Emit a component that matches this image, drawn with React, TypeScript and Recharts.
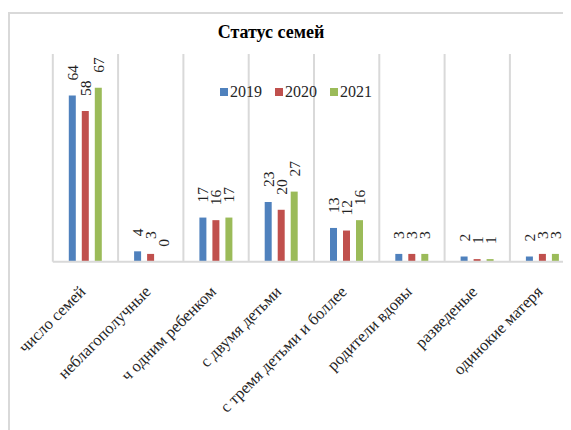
import { BarChart, Bar, XAxis, YAxis, CartesianGrid, LabelList } from 'recharts';

const categories = [
  'число семей',
  'неблагополучные',
  'ч одним ребенком',
  'с двумя детьми',
  'с тремя детьми и боллее',
  'родители вдовы',
  'разведеные',
  'одинокие матеря',
];
const values2019 = [64, 4, 17, 23, 13, 3, 2, 2];
const values2020 = [58, 3, 16, 20, 12, 3, 1, 3];
const values2021 = [67, 0, 17, 27, 16, 3, 1, 3];

const seriesList = [
  { key: '2019', color: '#4f81bd' },
  { key: '2020', color: '#c0504d' },
  { key: '2021', color: '#9bbb59' },
];

const FONT = '"Liberation Serif", "Times New Roman", serif';

const data = categories.map((name, i) => ({
  name,
  '2019': values2019[i],
  '2020': values2020[i],
  '2021': values2021[i],
}));

const RotatedLabel = (props: any) => {
  const { x, y, width, value } = props;
  const cx = x + width / 2;
  const ty = y - 15;
  return (
    <text
      x={cx}
      y={ty}
      transform={`rotate(-90 ${cx} ${ty})`}
      textAnchor="start"
      dominantBaseline="central"
      fontSize={15.5}
      fontFamily={FONT}
      fill="#222"
    >
      {String(value)}
    </text>
  );
};

const CategoryTick = (props: any) => {
  const { x, y, payload } = props;
  const tx = x + 1;
  const ty = y + 23;
  return (
    <text
      x={tx}
      y={ty}
      transform={`rotate(-45 ${tx} ${ty})`}
      textAnchor="end"
      fontSize={16.5}
      fontFamily={FONT}
      fill="#262626"
    >
      {payload.value}
    </text>
  );
};

export default function App() {
  return (
    <div style={{ position: 'relative', width: 563, height: 422, overflow: 'hidden' }}>
      <div
        style={{
          position: 'absolute',
          left: 0,
          top: 4,
          width: 700,
          height: 600,
          borderLeft: '2px solid #d9d9d9',
          borderTop: '2px solid #d9d9d9',
        }}
      />
      <div
        style={{
          position: 'absolute',
          left: 0,
          top: 14,
          width: 526,
          textAlign: 'center',
          fontFamily: FONT,
          fontWeight: 'bold',
          fontSize: 18,
          lineHeight: '21px',
          color: '#000',
        }}
      >
        Статус семей
      </div>
      <div style={{ position: 'absolute', left: 0, top: 0 }}>
        <BarChart
          width={620}
          height={422}
          data={data}
          margin={{ top: 46, right: 52.8, bottom: 0, left: 44.8 }}
          barSize={7}
          barGap={6}
        >
          <CartesianGrid
            horizontal={false}
            stroke="#d9d9d9"
            strokeWidth={2}
            verticalCoordinatesGenerator={({ offset }: any) =>
              categories.map((_, i) => offset.left + (i * offset.width) / categories.length)
            }
          />
          <XAxis
            dataKey="name"
            height={168.3}
            interval={0}
            tickLine={false}
            axisLine={{ stroke: '#d9d9d9', strokeWidth: 2 }}
            tick={<CategoryTick />}
          />
          <YAxis hide domain={[0, 80]} />
          {seriesList.map(s => (
            <Bar
              key={s.key}
              dataKey={s.key}
              fill={s.color}
              isAnimationActive={false}
              minPointSize={(v: number) => (v === 0 ? 0.01 : 0)}
            >
              <LabelList dataKey={s.key} content={<RotatedLabel />} />
            </Bar>
          ))}
        </BarChart>
      </div>
      <div
        style={{
          position: 'absolute',
          left: 212,
          top: 75,
          display: 'flex',
          alignItems: 'center',
          fontFamily: FONT,
          fontSize: 16,
          color: '#262626',
        }}
      >
        {seriesList.map(s => (
          <div key={s.key} style={{ display: 'flex', alignItems: 'center', marginRight: 13 }}>
            <span style={{ width: 8, height: 8, background: s.color, display: 'inline-block', marginRight: 2 }} />
            <span>{s.key}</span>
          </div>
        ))}
      </div>
    </div>
  );
}
